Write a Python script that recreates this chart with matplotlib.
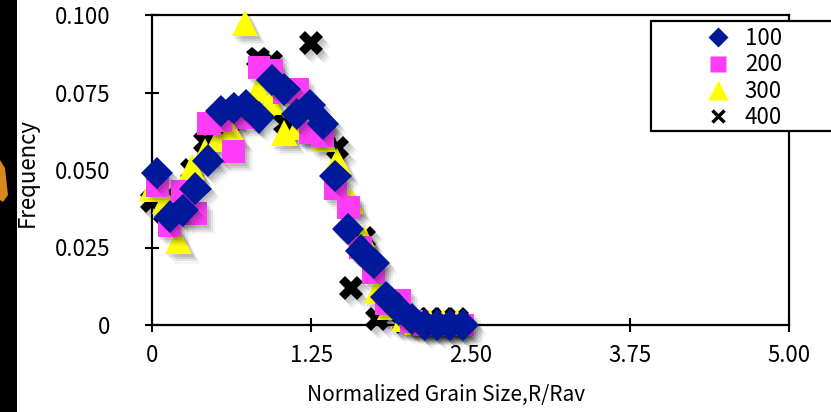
import matplotlib
matplotlib.use('Agg')
import matplotlib.pyplot as plt
import matplotlib.patheffects as pe
from matplotlib.lines import Line2D
from matplotlib.patches import Rectangle, Polygon

plt.rcParams['font.family'] = ['Noto Sans CJK JP', 'DejaVu Sans']

# grain size distributions, R/Rav vs frequency
size_100 = [0.04, 0.14, 0.24, 0.34, 0.44, 0.54, 0.64, 0.74, 0.84, 0.94, 1.04, 1.14, 1.24,
            1.34, 1.44, 1.54, 1.64, 1.74, 1.84, 1.94, 2.04, 2.14, 2.24, 2.34, 2.44]
freq_100 = [0.049, 0.035, 0.037, 0.044, 0.053, 0.069, 0.070, 0.071, 0.067, 0.079, 0.076, 0.068, 0.071,
            0.065, 0.048, 0.031, 0.024, 0.020, 0.009, 0.005, 0.002, 0.000, 0.000, 0.000, 0.000]

size_200 = [0.04, 0.14, 0.24, 0.34, 0.44, 0.54, 0.64, 0.74, 0.84, 0.94, 1.04, 1.14, 1.24,
            1.34, 1.44, 1.54, 1.64, 1.74, 1.84, 1.94, 2.04, 2.14, 2.24, 2.34, 2.44]
freq_200 = [0.045, 0.032, 0.043, 0.036, 0.065, 0.066, 0.056, 0.067, 0.083, 0.082, 0.075, 0.076, 0.062,
            0.061, 0.044, 0.038, 0.025, 0.017, 0.007, 0.008, 0.001, 0.000, 0.000, 0.000, 0.000]

size_300 = [0.0, 0.104, 0.208, 0.312, 0.416, 0.52, 0.624, 0.728, 0.832, 0.936, 1.04, 1.144,
            1.248, 1.352, 1.456, 1.56, 1.664, 1.768, 1.872, 1.976, 2.08, 2.184, 2.288, 2.392]
freq_300 = [0.044, 0.040, 0.027, 0.051, 0.056, 0.060, 0.063, 0.0975, 0.076, 0.072, 0.062, 0.064,
            0.063, 0.060, 0.053, 0.040, 0.028, 0.011, 0.006, 0.002, 0.001, 0.001, 0.001, 0.001]

size_400 = [0.0, 0.104, 0.208, 0.312, 0.416, 0.52, 0.624, 0.728, 0.832, 0.936, 1.04, 1.144,
            1.248, 1.352, 1.456, 1.56, 1.664, 1.768, 1.872, 1.976, 2.08, 2.184, 2.288, 2.392]
freq_400 = [0.040, 0.036, 0.041, 0.050, 0.059, 0.063, 0.066, 0.068, 0.086, 0.085, 0.065, 0.066,
            0.091, 0.062, 0.057, 0.012, 0.028, 0.002, 0.004, 0.001, 0.002, 0.002, 0.002, 0.002]

labels = ['100', '200', '300', '400']
xticks = [0, 1.25, 2.5, 3.75, 5.0]
xtick_labels = ['0', '1.25', '2.50', '3.75', '5.00']
yticks = [0, 0.025, 0.05, 0.075, 0.1]
ytick_labels = ['0', '0.025', '0.050', '0.075', '0.100']

navy = '#00189A'
magenta = '#FF3DF8'
yellow = '#FFFF00'

W, H = 831, 412
fig = plt.figure(figsize=(W / 100, H / 100), dpi=100)
ax = fig.add_axes([152 / W, 1 - 325 / H, 637 / W, 310 / H])

# soft drop shadow under every marker
shadow = [pe.SimplePatchShadow(offset=(1.5, -2), shadow_rgbFace='k', alpha=0.10),
          pe.SimplePatchShadow(offset=(3, -3.5), shadow_rgbFace='k', alpha=0.09),
          pe.SimplePatchShadow(offset=(4.5, -5), shadow_rgbFace='k', alpha=0.07),
          pe.SimplePatchShadow(offset=(6, -6.5), shadow_rgbFace='k', alpha=0.04),
          pe.Normal()]

ax.plot(size_400, freq_400, ls='none', marker='X', ms=17, color='k', mec='none',
        clip_on=False, path_effects=shadow, zorder=3)
ax.plot(size_300, freq_300, ls='none', marker='^', ms=19, color=yellow, mec='none',
        clip_on=False, path_effects=shadow, zorder=4)
ax.plot(size_200, freq_200, ls='none', marker='s', ms=16.5, color=magenta, mec='none',
        clip_on=False, path_effects=shadow, zorder=5)
ax.plot(size_100, freq_100, ls='none', marker='D', ms=16.5, color=navy, mec='none',
        clip_on=False, path_effects=shadow, zorder=6)

ax.set_xlim(0, 5)
ax.set_ylim(0, 0.1)
ax.set_xticks(xticks)
ax.set_xticklabels(xtick_labels)
ax.set_yticks(yticks)
ax.set_yticklabels(ytick_labels)
ax.tick_params(direction='inout', length=9.5, width=1.5, labelsize=16, colors='k')
ax.tick_params(axis='y', pad=25)
ax.tick_params(axis='x', pad=9)
for s in ax.spines.values():
    s.set_linewidth(1.6)

fig.text(446 / W, 1 - 395 / H, 'Normalized Grain Size,R/Rav', fontsize=15,
         ha='center', va='center')
fig.text(27 / W, 1 - 172 / H, 'Frequency', fontsize=16, rotation=90,
         ha='center', va='center')

# legend box runs off the right edge
fig.patches.append(Rectangle((651 / W, 1 - 131 / H), 200 / W, 110 / H,
                             transform=fig.transFigure, facecolor='white',
                             edgecolor='k', linewidth=1.6, zorder=10))
handles = [Line2D([], [], ls='none', marker='D', ms=10, color=navy, mec='none'),
           Line2D([], [], ls='none', marker='s', ms=12, color=magenta, mec='none'),
           Line2D([], [], ls='none', marker='^', ms=14, color=yellow, mec='none'),
           Line2D([], [], ls='none', marker='x', ms=8, color='k', mew=2.5)]
leg = fig.legend(handles, labels, loc='upper left', bbox_to_anchor=(707 / W, 1 - 27 / H),
                 frameon=False, fontsize=16, handlelength=1.0, handletextpad=0.7,
                 borderpad=0, borderaxespad=0, labelspacing=0.15)
leg.set_zorder(11)

# dark strip on the left edge
fig.patches.append(Rectangle((0, 0), 17 / W, 1, transform=fig.transFigure,
                             facecolor='black', edgecolor='none', zorder=1))
fig.patches.append(Polygon([(0, 1 - 160 / H), (5 / W, 1 - 168 / H), (8 / W, 1 - 195 / H),
                            (3 / W, 1 - 202 / H), (0, 1 - 200 / H)],
                           transform=fig.transFigure, facecolor='#D8891E',
                           edgecolor='none', zorder=2))

fig.savefig('out.png', dpi=100)
